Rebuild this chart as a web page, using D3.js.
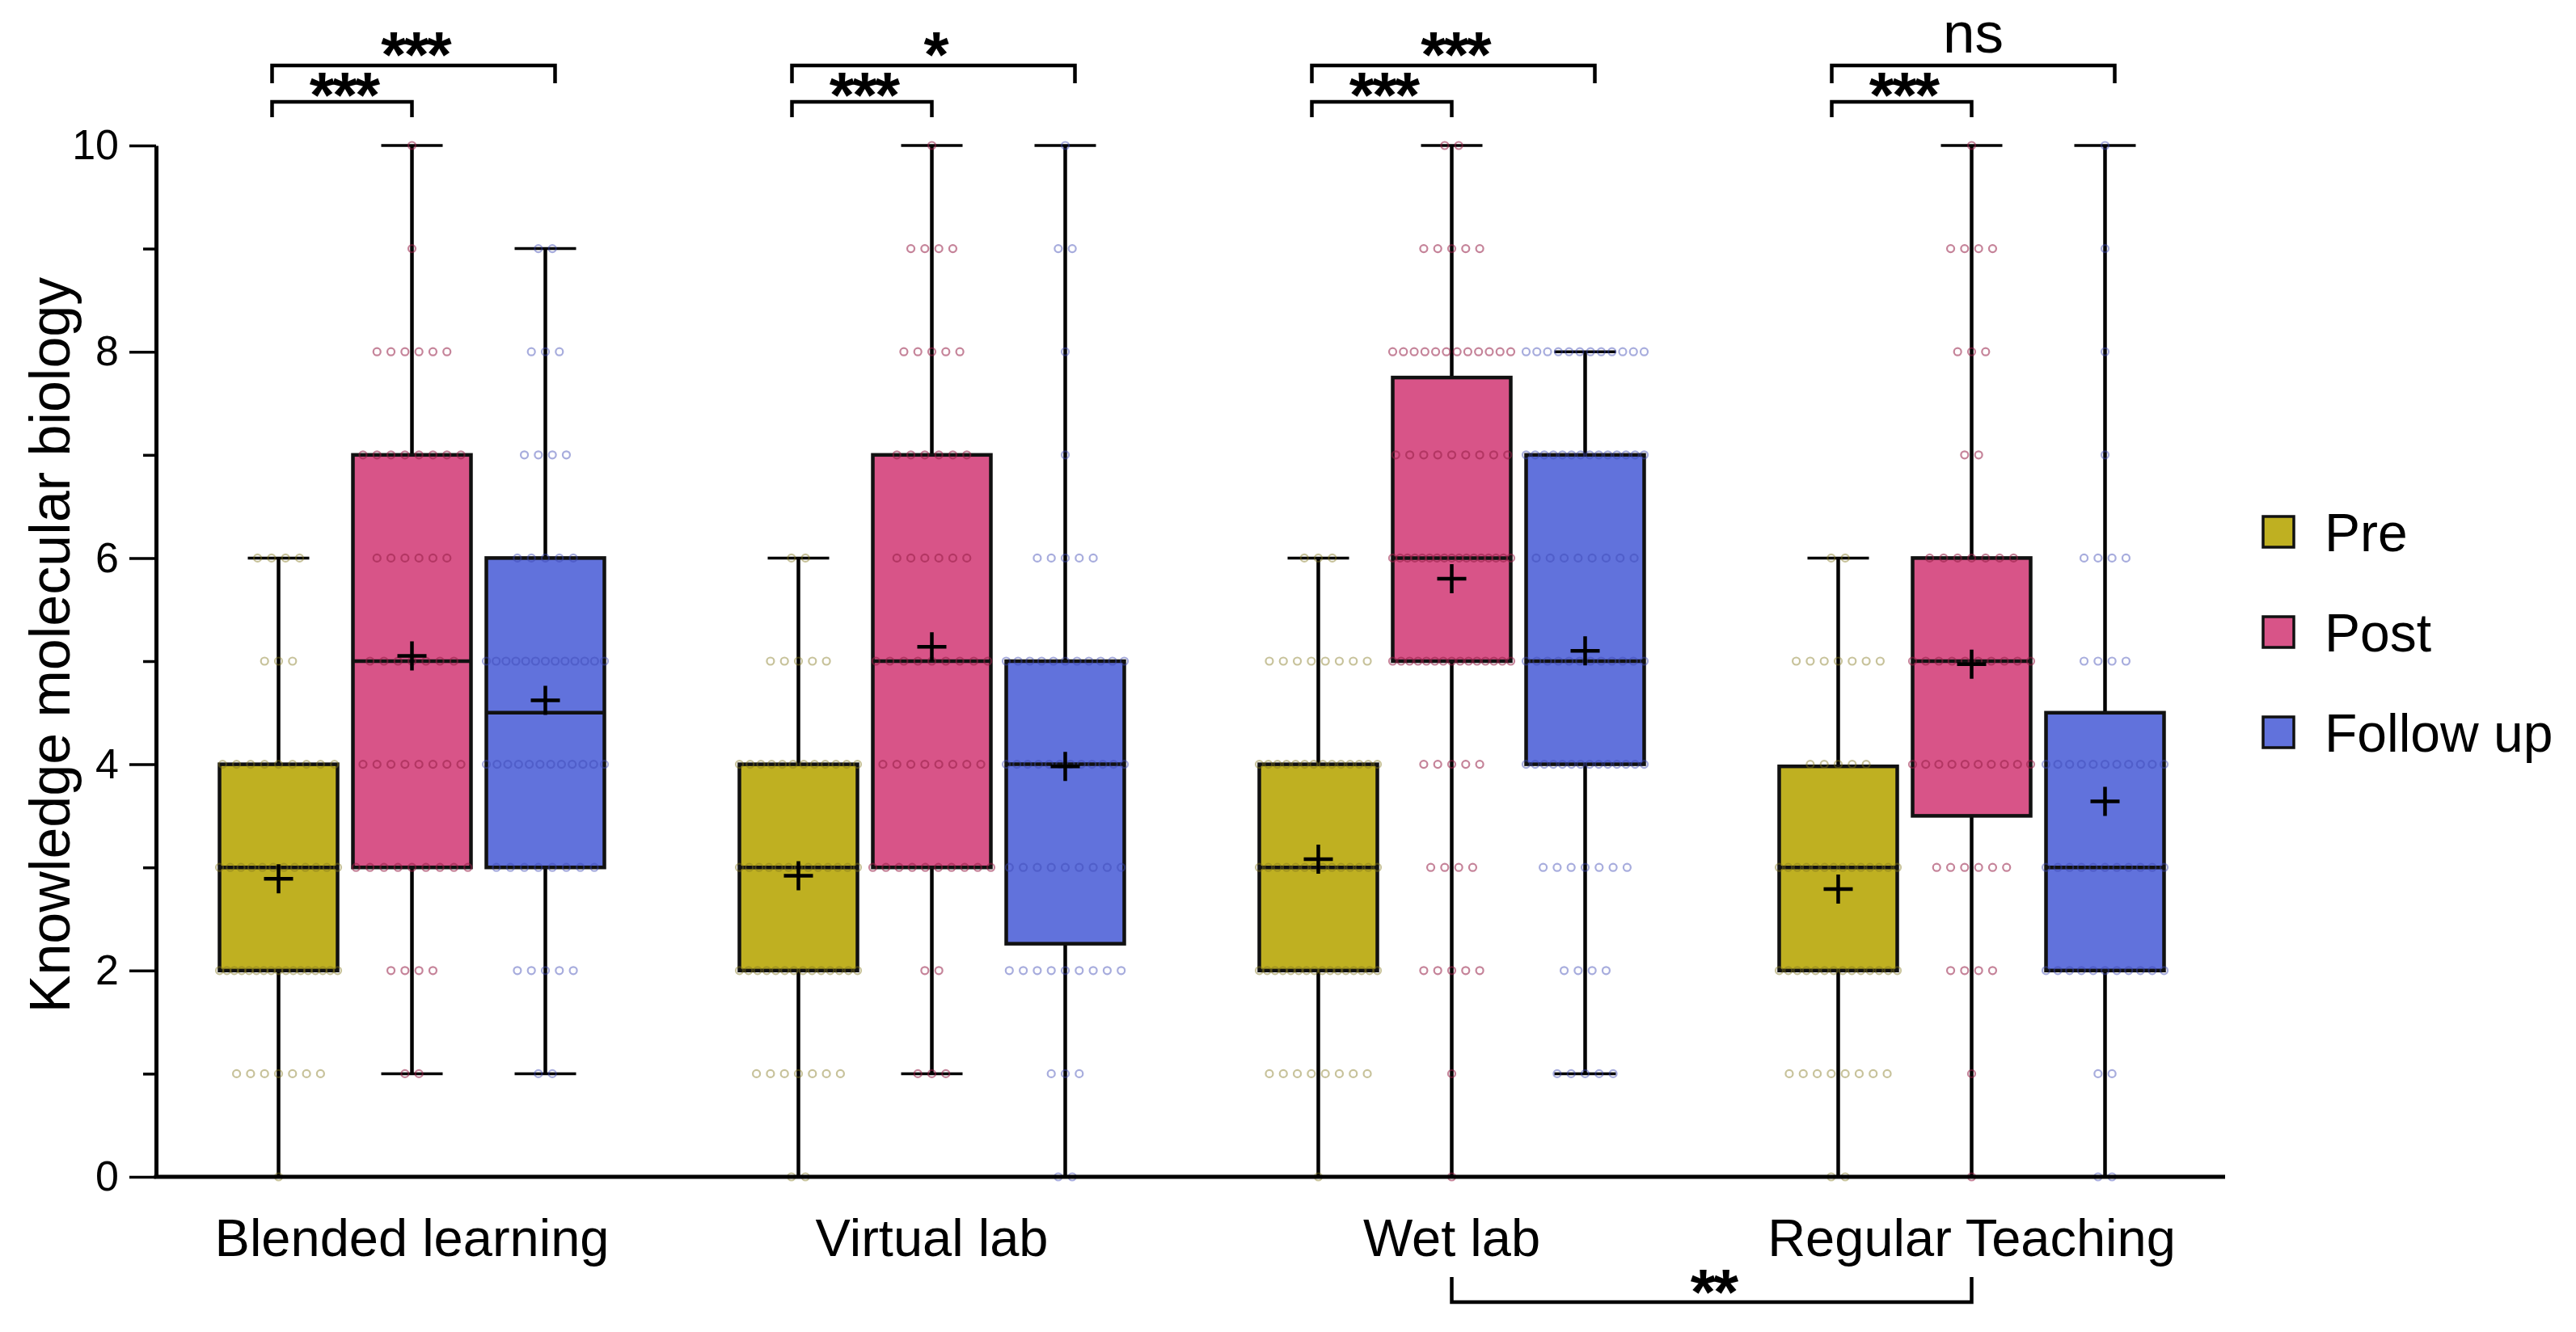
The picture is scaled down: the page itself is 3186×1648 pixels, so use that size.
<!DOCTYPE html>
<html>
<head>
<meta charset="utf-8">
<script src="https://cdn.jsdelivr.net/npm/d3@7"></script>
<style>
  body { margin: 0; background: #fff; }
  text { font-family: "Liberation Sans", Arial, Helvetica, sans-serif; fill: #000; }
</style>
</head>
<body>
<div id="container"></div>
<script>
const groups = ["Blended learning", "Virtual lab", "Wet lab", "Regular Teaching"]
const phases = ["Pre", "Post", "Follow up"]
const phaseColors = ["#bfb021", "#d85488", "#6172dc"]
const dotColors = ["rgba(130,120,30,0.45)", "rgba(150,30,70,0.55)", "rgba(60,70,180,0.45)"]

// how many students got each score 0..10
const scores = [0, 1, 2, 3, 4, 5, 6, 7, 8, 9, 10]
const preCounts = [
    [1, 7, 17, 12, 9, 3, 4, 0, 0, 0, 0],
    [2, 7, 14, 13, 12, 5, 2, 0, 0, 0, 0],
    [1, 8, 16, 14, 14, 8, 3, 0, 0, 0, 0],
    [2, 8, 14, 14, 5, 7, 2, 0, 0, 0, 0]
]
const postCounts = [
    [0, 2, 4, 9, 8, 7, 6, 8, 6, 1, 1],
    [0, 3, 2, 10, 8, 9, 6, 6, 5, 4, 1],
    [1, 1, 5, 4, 5, 15, 17, 9, 12, 5, 2],
    [1, 1, 4, 6, 10, 10, 7, 2, 3, 4, 1]
]
const followCounts = [
    [0, 2, 5, 8, 12, 13, 5, 4, 3, 2, 0],
    [2, 3, 9, 9, 12, 11, 5, 1, 1, 2, 1],
    [0, 5, 4, 7, 14, 12, 8, 14, 12, 0, 0],
    [2, 2, 11, 11, 11, 4, 4, 1, 1, 1, 1]
]

// box stats: min, q1, median, q3, max, mean
const preBox = [[0, 2, 3, 4, 6, 2.89], [0, 2, 3, 4, 6, 2.92], [0, 2, 3, 4, 6, 3.08], [0, 2, 3, 3.98, 6, 2.79]]
const postBox = [[1, 3, 5, 7, 10, 5.05], [1, 3, 5, 7, 10, 5.14], [0, 5, 6, 7.75, 10, 5.8], [0, 3.5, 5, 6, 10, 4.97]]
const followBox = [[1, 3, 4.5, 6, 9, 4.62], [0, 2.26, 4, 5, 10, 3.98], [1, 4, 5, 7, 8, 5.1], [0, 2, 3, 4.5, 10, 3.64]]

const yTicks = [0, 2, 4, 6, 8, 10]
const yMinorTicks = [1, 3, 5, 7, 9]

// significance: pre vs post, pre vs follow up
const sigPrePost = ["***", "***", "***", "***"]
const sigPreFollow = ["***", "*", "***", "ns"]
const sigBetween = { from: "Wet lab", to: "Regular Teaching", label: "**" }

const counts = [preCounts, postCounts, followCounts]
const boxes = [preBox, postBox, followBox]

const W = 3186, H = 1648
const axisX = 193, axisEnd = 2752
const boxW = 146, capW = 76, dotStep = 17.3

const svg = d3.select("#container").append("svg")
    .attr("width", W)
    .attr("height", H)

const x = d3.scaleBand().domain(groups).range([188, 2760])
const xPhase = d3.scalePoint().domain(phases).range([-165, 165])
const y = d3.scaleLinear().domain([0, 10]).range([1456, 180])

const cx = (g, p) => x(g) + x.bandwidth() / 2 + xPhase(p)

// y axis
const yaxis = svg.append("g")
    .attr("transform", "translate(" + axisX + ",0)")
    .call(d3.axisLeft(y).tickValues(yTicks).tickSize(33).tickSizeOuter(0).tickPadding(13))
yaxis.select(".domain").attr("stroke-width", 5)
yaxis.selectAll(".tick line").attr("stroke-width", 3.5)
yaxis.selectAll(".tick text").style("font-size", "52px").style("font-family", "'Liberation Sans', Arial, sans-serif")

const yminor = svg.append("g")
    .attr("transform", "translate(" + axisX + ",0)")
    .call(d3.axisLeft(y).tickValues(yMinorTicks).tickSize(16).tickFormat(""))
yminor.select(".domain").remove()
yminor.selectAll(".tick line").attr("stroke-width", 3.5)

svg.append("text")
    .attr("text-anchor", "middle")
    .attr("transform", "translate(86,798)rotate(-90)")
    .style("font-size", "70px")
    .text("Knowledge molecular biology")

// boxes
groups.forEach((g, gi) => {
    phases.forEach((p, pi) => {
        const [mn, q1, med, q3, mx, mean] = boxes[pi][gi]
        const c = cx(g, p)
        const grp = svg.append("g")

        // whiskers
        grp.append("line").attr("x1", c).attr("x2", c).attr("y1", y(q3)).attr("y2", y(mx))
            .attr("stroke", "#000").attr("stroke-width", 4.5)
        grp.append("line").attr("x1", c).attr("x2", c).attr("y1", y(q1)).attr("y2", y(mn))
            .attr("stroke", "#000").attr("stroke-width", 4.5)
        ;[mn, mx].forEach(v => {
            grp.append("line").attr("x1", c - capW / 2).attr("x2", c + capW / 2)
                .attr("y1", y(v)).attr("y2", y(v))
                .attr("stroke", "#000").attr("stroke-width", 3.5)
        })

        grp.append("rect")
            .attr("x", c - boxW / 2).attr("width", boxW)
            .attr("y", y(q3)).attr("height", y(q1) - y(q3))
            .attr("fill", phaseColors[pi])
            .attr("stroke", "#111").attr("stroke-width", 4.5)

        grp.append("line").attr("x1", c - boxW / 2).attr("x2", c + boxW / 2)
            .attr("y1", y(med)).attr("y2", y(med))
            .attr("stroke", "#111").attr("stroke-width", 4.5)

        // dots
        scores.forEach((s, si) => {
            const n = counts[pi][gi][si]
            if (!n) return
            const step = n > 1 ? Math.min(dotStep, boxW / (n - 1)) : 0
            d3.range(n).forEach(k => {
                grp.append("circle")
                    .attr("cx", c + (k - (n - 1) / 2) * step)
                    .attr("cy", y(s))
                    .attr("r", 4.5)
                    .attr("fill", "none")
                    .attr("stroke", dotColors[pi])
                    .attr("stroke-width", 2.2)
            })
        })

        // mean
        grp.append("path")
            .attr("d", "M" + (c - 18) + "," + y(mean) + "h36M" + c + "," + (y(mean) - 18) + "v36")
            .attr("stroke", "#000").attr("stroke-width", 4.5)
    })
})

// x axis
svg.append("line")
    .attr("x1", axisX - 2.5).attr("x2", axisEnd)
    .attr("y1", y(0)).attr("y2", y(0))
    .attr("stroke", "#000").attr("stroke-width", 5)

const xaxis = svg.append("g")
    .attr("transform", "translate(0," + y(0) + ")")
    .call(d3.axisBottom(x).tickSize(0))
xaxis.select(".domain").remove()
xaxis.selectAll(".tick text")
    .attr("y", 98).attr("dy", 0)
    .style("font-size", "65px")
    .style("font-family", "'Liberation Sans', Arial, sans-serif")

// significance brackets
function bracket(x1, x2, yLine, yEnd, label, yText) {
    svg.append("path")
        .attr("d", "M" + x1 + "," + yEnd + "V" + yLine + "H" + x2 + "V" + yEnd)
        .attr("fill", "none").attr("stroke", "#000").attr("stroke-width", 4.5)
    const stars = label !== "ns"
    svg.append("text")
        .attr("x", (x1 + x2) / 2 + (stars ? 2 : 0)).attr("y", yText)
        .attr("text-anchor", "middle")
        .style("font-size", stars ? "80px" : "71px")
        .style("font-weight", stars ? "bold" : "normal")
        .style("letter-spacing", stars ? "-3px" : "0px")
        .text(label)
}

groups.forEach((g, gi) => {
    const pre = cx(g, "Pre"), post = cx(g, "Post"), fol = cx(g, "Follow up")
    bracket(pre - 8, post, 126, 145, sigPrePost[gi], 145)
    const lab = sigPreFollow[gi]
    bracket(pre - 8, fol + 12, 81, 103, lab, lab === "ns" ? 65 : 95)
})

bracket(cx(sigBetween.from, "Post"), cx(sigBetween.to, "Post"), 1611, 1580, sigBetween.label, 1626)

// legend
const legend = svg.append("g")
phases.forEach((p, i) => {
    const ly = 658 + i * 124
    legend.append("rect")
        .attr("x", 2799).attr("y", ly - 19)
        .attr("width", 38).attr("height", 38)
        .attr("fill", phaseColors[i])
        .attr("stroke", "#111").attr("stroke-width", 3.5)
    legend.append("text")
        .attr("x", 2875).attr("y", ly + 24)
        .style("font-size", "66px")
        .text(p)
})
</script>
</body>
</html>
